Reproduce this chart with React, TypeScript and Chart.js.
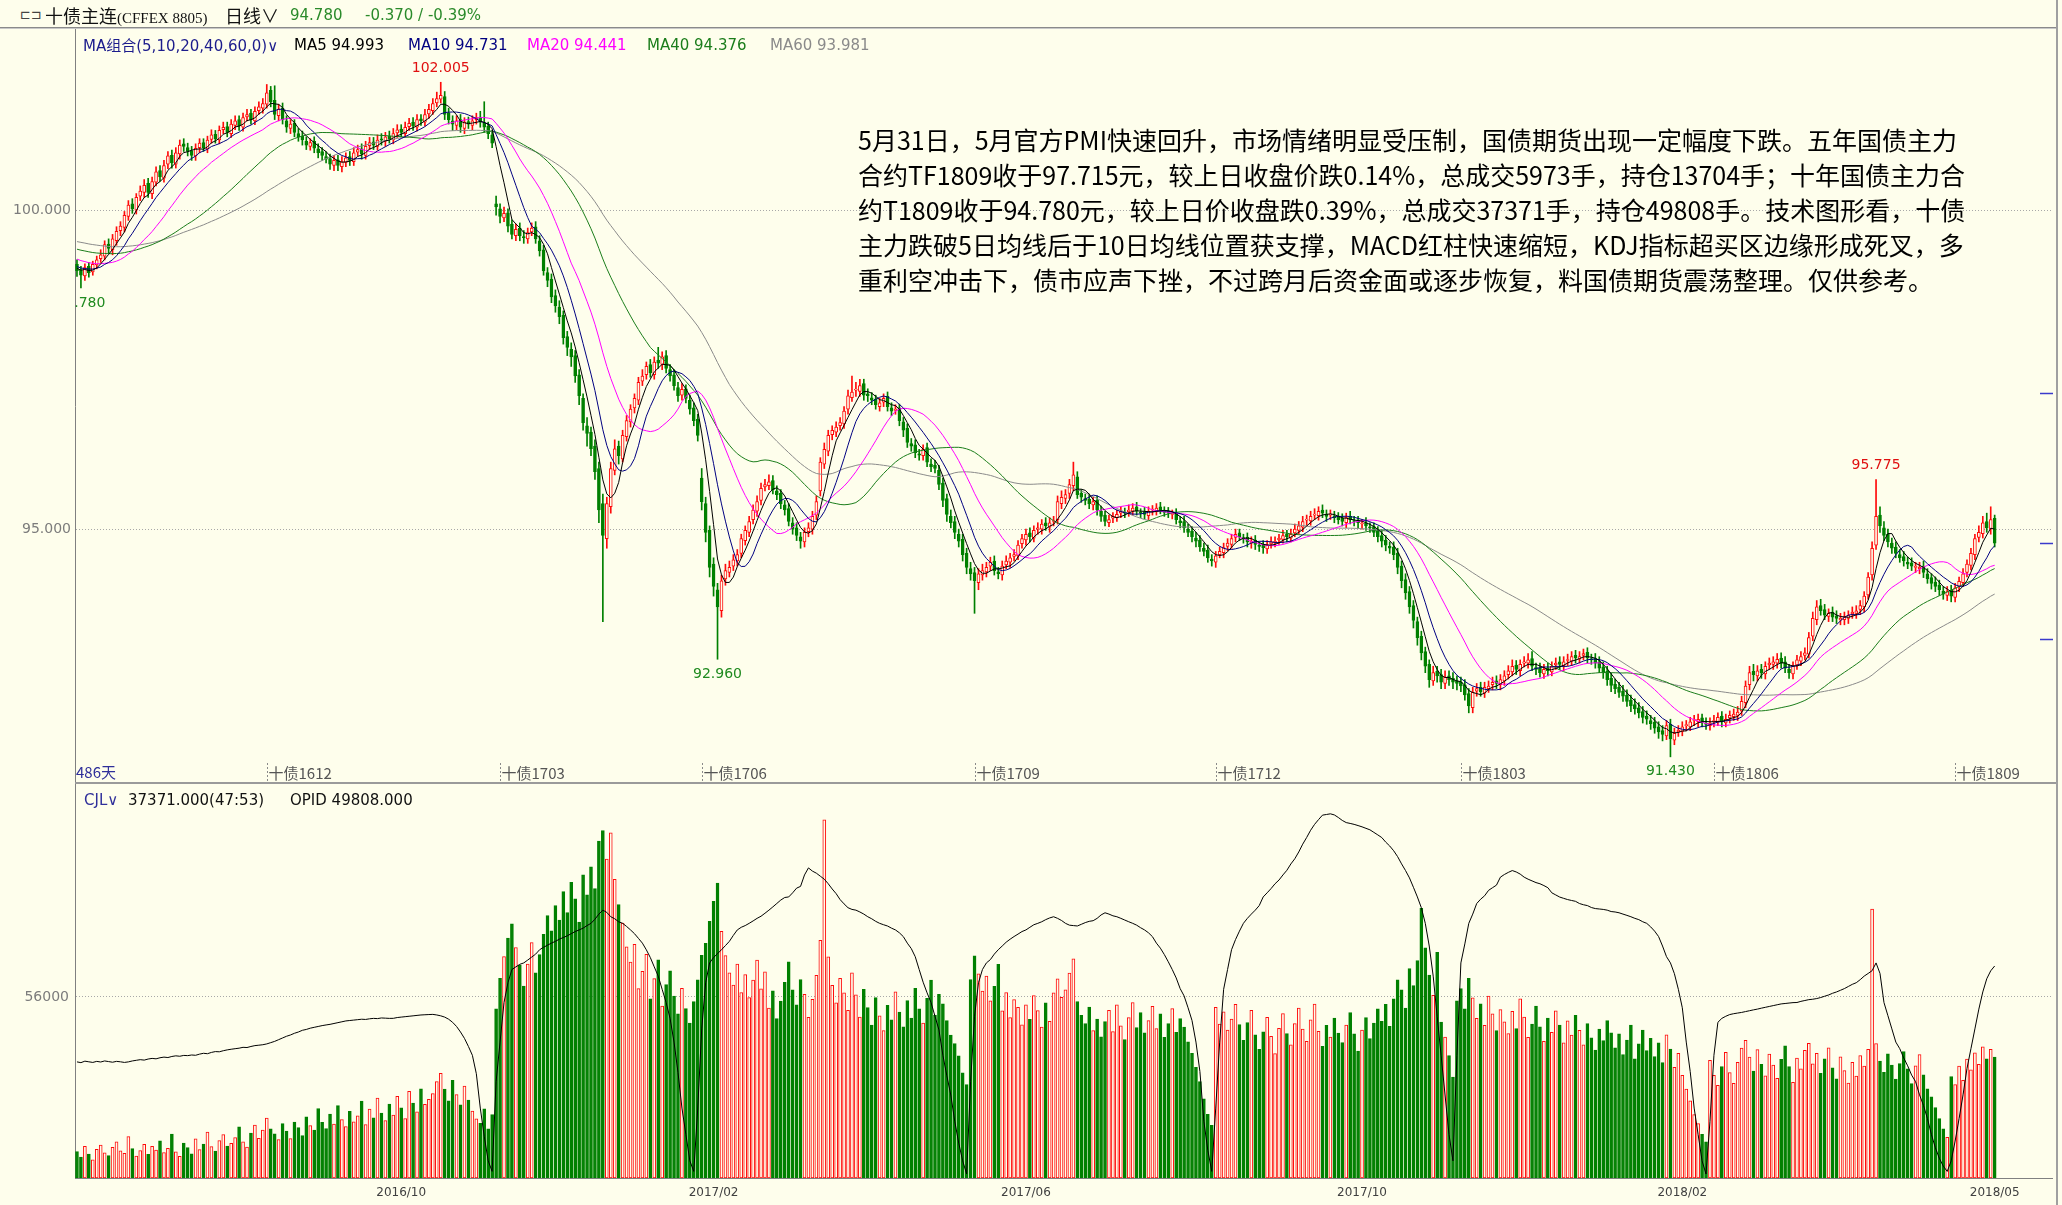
import React, { useEffect, useRef } from 'react';
import { Chart, registerables } from 'chart.js';
Chart.register(...registerables);

// ---------- data ----------
const PRE_CLOSE = [
  99.70,99.78,99.82,99.76,99.72,99.80,99.85,99.78,99.74,99.70,99.76,99.80,99.72,99.68,99.75,99.78,99.70,99.66,99.72,99.68,
  99.62,99.58,99.55,99.60,99.52,99.48,99.55,99.58,99.50,99.56,99.60,99.54,99.50,99.52,99.56,99.58,99.52,99.48,99.54,99.50,
  99.45,99.40,99.38,99.32,99.36,99.30,99.34,99.28,99.35,99.30,
  99.22,99.18,99.10,99.15,99.08,99.12,99.05,99.10,99.12,
];

const OPEN = [
  99.15,99.06,98.97,99.12,99.03,99.14,99.24,99.28,99.47,99.38,
  99.52,99.68,99.73,99.90,100.10,100.00,100.22,100.28,100.42,100.26,
  100.44,100.62,100.50,100.72,100.86,100.72,100.88,101.04,100.98,100.93,
  100.85,100.98,101.06,100.96,101.11,101.19,101.10,101.26,101.31,101.20,
  101.33,101.42,101.30,101.46,101.52,101.40,101.56,101.60,101.66,101.88,
  101.72,101.48,101.60,101.40,101.28,101.36,101.20,101.16,101.08,101.00,
  101.08,100.96,100.92,100.84,100.81,100.70,100.79,100.68,100.75,100.84,
  100.76,100.91,100.96,100.86,101.01,101.07,101.00,101.12,101.08,101.16,
  101.10,101.21,101.27,101.20,101.31,101.38,101.30,101.43,101.38,101.51,
  101.56,101.68,101.74,101.78,101.52,101.40,101.33,101.42,101.28,101.39,
  101.33,101.42,101.46,101.36,101.32,101.18,100.10,100.02,99.88,99.96,
  99.78,99.60,99.72,99.58,99.55,99.66,99.74,99.52,99.38,99.02,
  98.92,98.66,98.48,98.35,98.02,97.82,97.72,97.42,97.05,96.62,
  96.52,96.30,95.95,95.40,94.85,95.35,95.92,96.30,96.10,96.45,
  96.68,96.90,97.02,97.32,97.42,97.58,97.42,97.65,97.58,97.72,
  97.50,97.42,97.22,97.10,97.20,97.02,96.90,96.72,95.80,95.40,
  94.98,94.45,94.05,93.72,94.22,94.32,94.42,94.50,94.62,94.82,
  94.95,95.15,95.28,95.45,95.66,95.68,95.76,95.60,95.56,95.38,
  95.32,95.10,95.02,94.88,94.80,94.96,95.00,95.22,95.60,96.02,
  96.22,96.48,96.52,96.62,96.65,96.88,97.06,97.18,97.16,97.28,
  97.12,97.06,97.04,96.92,96.99,97.08,96.90,96.86,96.90,96.68,
  96.58,96.34,96.32,96.18,96.15,96.28,96.02,96.00,95.92,95.72,
  95.48,95.20,95.12,94.92,94.84,94.62,94.38,94.32,94.16,94.28,
  94.33,94.42,94.50,94.33,94.28,94.44,94.48,94.57,94.58,94.77,
  94.83,94.94,94.86,95.00,95.00,95.10,95.03,95.12,95.15,95.40,
  95.48,95.56,95.68,95.82,95.56,95.48,95.47,95.38,95.45,95.28,
  95.22,95.10,95.17,95.18,95.25,95.26,95.27,95.28,95.35,95.26,
  95.27,95.21,95.30,95.28,95.35,95.28,95.28,95.23,95.25,95.13,
  95.12,95.00,94.97,94.86,94.83,94.70,94.67,94.53,94.48,94.60,
  94.63,94.73,94.76,94.87,94.94,94.86,94.87,94.78,94.83,94.74,
  94.75,94.69,94.77,94.78,94.83,94.84,94.92,94.86,94.94,94.98,
  95.03,95.14,95.13,95.22,95.21,95.30,95.23,95.22,95.21,95.20,
  95.17,95.10,95.20,95.13,95.14,95.08,95.10,95.03,95.04,94.97,
  94.90,94.83,94.73,94.72,94.62,94.42,94.21,94.02,93.80,93.55,
  93.32,93.08,92.88,92.62,92.77,92.72,92.58,92.70,92.66,92.62,
  92.60,92.56,92.42,92.20,92.46,92.52,92.43,92.50,92.56,92.62,
  92.56,92.62,92.72,92.76,92.87,92.78,92.90,92.90,92.97,92.83,
  92.82,92.73,92.82,92.76,92.87,92.92,92.86,92.94,92.93,93.02,
  92.96,93.02,93.07,92.96,92.97,92.92,92.84,92.77,92.66,92.57,
  92.52,92.46,92.40,92.32,92.25,92.20,92.14,92.07,92.00,91.97,
  91.90,91.84,91.76,91.94,91.69,91.82,91.83,91.92,91.90,92.00,
  91.98,92.04,91.96,91.92,91.98,91.98,92.07,91.96,92.04,92.06,
  92.08,92.15,92.28,92.56,92.77,92.70,92.80,92.73,92.87,92.88,
  92.90,92.98,92.92,92.80,92.73,92.87,92.93,93.02,93.04,93.32,
  93.58,93.80,93.74,93.63,93.70,93.64,93.58,93.58,93.60,93.67,
  93.68,93.74,93.78,93.97,94.28,94.75,95.22,95.02,94.92,94.78,
  94.72,94.60,94.57,94.48,94.47,94.40,94.38,94.42,94.30,94.24,
  94.17,94.12,94.03,93.96,94.04,93.93,94.10,94.16,94.32,94.43,
  94.60,94.87,94.93,95.12,95.00,95.17,
];

const HIGH = [
  99.22,99.12,99.16,99.18,99.20,99.28,99.38,99.52,99.55,99.62,
  99.74,99.82,99.98,100.15,100.18,100.26,100.38,100.48,100.50,100.52,
  100.68,100.70,100.78,100.92,100.94,100.98,101.10,101.12,101.05,101.00,
  101.04,101.12,101.12,101.16,101.26,101.25,101.32,101.38,101.38,101.42,
  101.48,101.48,101.52,101.58,101.58,101.62,101.70,101.75,101.97,101.94,
  101.95,101.66,101.68,101.48,101.42,101.42,101.28,101.24,101.15,101.12,
  101.15,101.04,100.98,100.92,100.88,100.86,100.86,100.84,100.90,100.92,
  100.98,101.02,101.04,101.08,101.14,101.14,101.18,101.20,101.22,101.24,
  101.28,101.34,101.34,101.38,101.44,101.45,101.50,101.50,101.58,101.66,
  101.75,101.85,102.005,101.86,101.60,101.48,101.48,101.50,101.45,101.46,
  101.48,101.52,101.55,101.70,101.38,101.25,100.22,100.10,100.05,100.02,
  99.85,99.78,99.80,99.68,99.72,99.80,99.82,99.60,99.45,99.10,
  99.00,98.75,98.58,98.42,98.10,97.92,97.80,97.50,97.12,96.75,
  96.60,96.40,96.05,95.55,95.50,96.05,96.40,96.38,96.55,96.78,
  96.95,97.12,97.38,97.50,97.62,97.66,97.70,97.85,97.78,97.80,
  97.58,97.50,97.30,97.28,97.26,97.10,96.98,96.80,95.95,95.50,
  95.05,94.55,94.15,94.28,94.45,94.50,94.60,94.68,94.92,95.05,
  95.20,95.38,95.52,95.72,95.78,95.85,95.84,95.68,95.62,95.45,
  95.40,95.18,95.10,94.95,95.02,95.10,95.28,95.52,96.12,96.35,
  96.55,96.62,96.68,96.75,96.92,97.18,97.40,97.30,97.35,97.35,
  97.20,97.14,97.10,97.05,97.12,97.15,96.98,96.95,96.96,96.75,
  96.65,96.42,96.40,96.25,96.32,96.35,96.10,96.08,96.00,95.80,
  95.55,95.30,95.20,95.00,94.92,94.70,94.48,94.40,94.38,94.45,
  94.48,94.56,94.58,94.40,94.50,94.58,94.62,94.68,94.82,94.92,
  95.00,95.02,95.05,95.10,95.15,95.18,95.18,95.20,95.52,95.60,
  95.62,95.78,96.05,95.90,95.62,95.55,95.55,95.50,95.52,95.36,
  95.28,95.22,95.26,95.30,95.35,95.33,95.38,95.40,95.42,95.32,
  95.34,95.35,95.37,95.40,95.42,95.35,95.34,95.30,95.32,95.20,
  95.20,95.08,95.04,94.95,94.90,94.78,94.75,94.60,94.65,94.72,
  94.78,94.85,94.92,95.00,95.00,94.92,94.94,94.88,94.90,94.80,
  94.82,94.82,94.88,94.88,94.92,94.98,94.98,95.00,95.08,95.12,
  95.20,95.22,95.28,95.32,95.35,95.38,95.30,95.30,95.28,95.26,
  95.24,95.25,95.28,95.20,95.20,95.15,95.18,95.10,95.10,95.04,
  94.98,94.90,94.80,94.80,94.70,94.50,94.30,94.10,93.88,93.62,
  93.40,93.15,92.95,92.85,92.85,92.80,92.78,92.78,92.75,92.70,
  92.68,92.64,92.50,92.52,92.58,92.60,92.60,92.62,92.68,92.70,
  92.72,92.78,92.86,92.95,92.94,92.95,93.00,93.05,93.08,92.90,
  92.90,92.88,92.90,92.92,92.98,93.00,93.00,93.04,93.08,93.10,
  93.08,93.12,93.14,93.04,93.05,93.00,92.92,92.85,92.74,92.65,
  92.60,92.55,92.48,92.40,92.34,92.28,92.22,92.15,92.08,92.05,
  91.98,91.92,92.00,92.02,91.88,91.92,91.98,92.00,92.05,92.08,
  92.10,92.10,92.04,92.04,92.08,92.12,92.14,92.10,92.15,92.18,
  92.22,92.38,92.62,92.85,92.88,92.86,92.88,92.92,92.98,93.00,
  93.05,93.06,93.00,92.88,92.92,93.02,93.08,93.14,93.38,93.70,
  93.88,93.90,93.82,93.75,93.78,93.72,93.68,93.70,93.72,93.78,
  93.80,93.88,94.02,94.32,94.80,95.775,95.35,95.12,95.00,94.86,
  94.80,94.68,94.65,94.56,94.55,94.48,94.48,94.50,94.38,94.30,
  94.25,94.20,94.10,94.10,94.12,94.15,94.25,94.38,94.52,94.70,
  94.92,95.05,95.20,95.25,95.35,95.22,
];

const LOW = [
  98.96,98.78,98.90,98.95,98.98,99.08,99.18,99.22,99.32,99.30,
  99.45,99.60,99.66,99.84,99.95,99.94,100.15,100.20,100.20,100.18,
  100.38,100.45,100.44,100.65,100.66,100.66,100.80,100.92,100.85,100.78,
  100.78,100.90,100.92,100.90,101.05,101.05,101.04,101.20,101.15,101.14,
  101.26,101.25,101.24,101.40,101.35,101.34,101.50,101.52,101.60,101.62,
  101.42,101.40,101.35,101.22,101.20,101.15,101.08,101.02,100.95,100.94,
  100.90,100.82,100.78,100.74,100.64,100.62,100.62,100.60,100.68,100.70,
  100.70,100.85,100.80,100.80,100.95,100.95,100.94,101.02,101.00,101.05,
  101.04,101.14,101.15,101.14,101.25,101.25,101.24,101.33,101.32,101.44,
  101.50,101.62,101.68,101.42,101.35,101.25,101.26,101.22,101.20,101.28,
  101.26,101.35,101.30,101.22,101.12,100.98,99.92,99.80,99.82,99.66,
  99.55,99.52,99.52,99.48,99.48,99.60,99.48,99.28,98.98,98.80,
  98.55,98.40,98.22,97.90,97.72,97.55,97.30,96.95,96.55,96.30,
  96.15,95.78,95.10,93.55,94.70,95.25,95.85,96.02,96.05,96.38,
  96.60,96.82,96.95,97.25,97.35,97.38,97.35,97.52,97.50,97.45,
  97.32,97.18,97.00,97.02,96.98,96.80,96.62,96.38,95.30,94.80,
  94.25,93.95,92.96,93.62,94.12,94.25,94.35,94.42,94.55,94.75,
  94.88,95.08,95.20,95.38,95.60,95.62,95.55,95.46,95.32,95.22,
  95.05,94.92,94.82,94.70,94.72,94.88,94.92,95.15,95.52,95.95,
  96.15,96.40,96.45,96.55,96.58,96.80,97.00,97.08,97.08,97.02,
  97.00,96.95,96.88,96.85,96.92,96.85,96.78,96.80,96.62,96.45,
  96.28,96.22,96.12,96.08,96.08,95.98,95.90,95.88,95.62,95.35,
  95.12,95.02,94.85,94.72,94.50,94.30,94.20,93.68,94.05,94.20,
  94.25,94.35,94.28,94.22,94.20,94.38,94.40,94.50,94.52,94.70,
  94.75,94.80,94.80,94.92,94.92,94.98,94.95,95.05,95.08,95.32,
  95.40,95.48,95.60,95.48,95.42,95.38,95.32,95.30,95.22,95.12,
  95.05,95.04,95.10,95.12,95.18,95.18,95.20,95.22,95.22,95.18,
  95.16,95.15,95.22,95.22,95.24,95.20,95.18,95.16,95.08,95.02,
  94.95,94.88,94.80,94.72,94.65,94.58,94.48,94.42,94.40,94.55,
  94.55,94.66,94.70,94.80,94.82,94.78,94.72,94.70,94.68,94.65,
  94.62,94.62,94.70,94.72,94.76,94.78,94.80,94.80,94.88,94.92,
  94.96,95.06,95.06,95.15,95.14,95.18,95.12,95.15,95.10,95.08,
  95.05,95.02,95.08,95.05,95.02,95.00,94.98,94.95,94.88,94.80,
  94.72,94.66,94.62,94.52,94.30,94.08,93.90,93.68,93.45,93.18,
  92.95,92.75,92.52,92.55,92.60,92.50,92.50,92.55,92.50,92.48,
  92.45,92.32,92.12,92.12,92.38,92.38,92.36,92.44,92.48,92.50,
  92.48,92.55,92.65,92.70,92.72,92.70,92.84,92.82,92.78,92.72,
  92.68,92.66,92.70,92.70,92.80,92.80,92.78,92.86,92.86,92.90,
  92.90,92.95,92.90,92.88,92.82,92.75,92.66,92.55,92.45,92.42,
  92.36,92.30,92.22,92.14,92.10,92.04,91.96,91.94,91.86,91.80,
  91.72,91.68,91.70,91.43,91.62,91.75,91.76,91.84,91.84,91.92,
  91.90,91.90,91.86,91.85,91.90,91.92,91.90,91.90,91.96,92.00,
  92.00,92.08,92.20,92.48,92.62,92.62,92.66,92.65,92.80,92.80,
  92.82,92.82,92.75,92.66,92.65,92.80,92.86,92.95,92.98,93.25,
  93.50,93.65,93.58,93.55,93.55,93.52,93.50,93.50,93.52,93.60,
  93.60,93.66,93.70,93.90,94.20,94.68,94.95,94.82,94.72,94.62,
  94.55,94.48,94.42,94.38,94.35,94.32,94.30,94.24,94.15,94.06,
  94.02,93.96,93.90,93.88,93.86,93.86,94.02,94.10,94.25,94.36,
  94.52,94.80,94.86,94.95,94.92,94.72,
];

const CLOSE = [
  99.05,98.98,99.10,99.02,99.15,99.22,99.30,99.46,99.40,99.55,
  99.67,99.75,99.92,100.08,100.02,100.20,100.30,100.39,100.28,100.45,
  100.60,100.52,100.70,100.85,100.74,100.90,101.02,101.00,100.92,100.86,
  100.97,101.05,100.98,101.10,101.18,101.12,101.25,101.30,101.22,101.35,
  101.40,101.32,101.45,101.50,101.42,101.55,101.62,101.67,101.84,101.70,
  101.50,101.58,101.42,101.30,101.35,101.22,101.15,101.10,101.02,101.06,
  100.97,100.90,100.86,100.80,100.72,100.78,100.70,100.76,100.82,100.78,
  100.90,100.95,100.88,101.00,101.06,101.02,101.10,101.10,101.15,101.12,
  101.20,101.26,101.22,101.30,101.36,101.32,101.42,101.40,101.50,101.58,
  101.67,101.75,101.80,101.50,101.42,101.35,101.40,101.30,101.38,101.35,
  101.40,101.45,101.38,101.30,101.20,101.05,100.05,99.90,99.95,99.75,
  99.62,99.70,99.60,99.57,99.65,99.72,99.55,99.36,99.05,98.90,
  98.64,98.50,98.33,98.00,97.85,97.70,97.40,97.09,96.67,96.50,
  96.26,95.90,95.30,94.90,95.40,95.95,96.26,96.15,96.47,96.70,
  96.88,97.05,97.30,97.40,97.55,97.45,97.62,97.60,97.70,97.52,
  97.40,97.25,97.09,97.19,97.05,96.88,96.70,96.47,95.43,94.95,
  94.40,94.10,93.78,94.19,94.35,94.40,94.52,94.60,94.85,94.98,
  95.12,95.30,95.43,95.64,95.70,95.74,95.62,95.54,95.40,95.30,
  95.12,95.00,94.90,94.81,94.95,95.02,95.20,95.43,96.05,96.25,
  96.47,96.55,96.60,96.67,96.85,97.09,97.15,97.19,97.25,97.10,
  97.09,97.02,96.95,96.98,97.05,96.92,96.85,96.88,96.70,96.55,
  96.36,96.30,96.20,96.16,96.25,96.05,95.98,95.95,95.70,95.45,
  95.23,95.10,94.95,94.81,94.60,94.40,94.30,94.19,94.30,94.35,
  94.40,94.48,94.35,94.30,94.42,94.50,94.55,94.60,94.75,94.85,
  94.92,94.88,94.98,95.02,95.08,95.05,95.10,95.12,95.43,95.50,
  95.54,95.70,95.85,95.54,95.50,95.45,95.40,95.43,95.30,95.20,
  95.12,95.15,95.20,95.23,95.28,95.25,95.30,95.33,95.28,95.25,
  95.23,95.28,95.30,95.33,95.30,95.26,95.25,95.23,95.15,95.10,
  95.02,94.95,94.88,94.81,94.72,94.65,94.55,94.50,94.58,94.65,
  94.71,94.78,94.85,94.92,94.88,94.85,94.80,94.81,94.76,94.73,
  94.71,94.75,94.80,94.81,94.86,94.90,94.88,94.92,95.00,95.05,
  95.12,95.15,95.20,95.23,95.28,95.25,95.20,95.23,95.18,95.15,
  95.12,95.18,95.15,95.12,95.10,95.08,95.05,95.02,94.95,94.88,
  94.81,94.75,94.70,94.60,94.40,94.19,94.00,93.78,93.57,93.30,
  93.06,92.85,92.64,92.75,92.70,92.60,92.68,92.64,92.60,92.58,
  92.54,92.40,92.23,92.44,92.50,92.45,92.52,92.54,92.60,92.58,
  92.64,92.70,92.78,92.85,92.80,92.88,92.92,92.95,92.85,92.80,
  92.75,92.80,92.78,92.85,92.90,92.88,92.92,92.95,93.00,92.98,
  93.00,93.05,92.98,92.95,92.90,92.82,92.75,92.64,92.55,92.50,
  92.44,92.38,92.30,92.23,92.18,92.12,92.05,92.02,91.95,91.88,
  91.82,91.78,91.92,91.71,91.80,91.85,91.90,91.92,91.98,92.00,
  92.02,91.98,91.94,91.96,92.00,92.05,91.98,92.02,92.08,92.10,
  92.13,92.30,92.54,92.75,92.72,92.78,92.75,92.85,92.90,92.92,
  92.96,92.90,92.82,92.75,92.85,92.95,93.00,93.06,93.30,93.60,
  93.78,93.72,93.65,93.68,93.62,93.60,93.60,93.62,93.65,93.70,
  93.72,93.80,93.95,94.25,94.70,95.20,95.05,94.90,94.80,94.70,
  94.62,94.55,94.50,94.45,94.42,94.40,94.40,94.32,94.22,94.15,
  94.10,94.05,93.98,94.02,93.95,94.08,94.18,94.30,94.45,94.62,
  94.85,94.95,95.10,95.02,95.15,94.78,
];

const VOLUME = [
  8200,6500,9800,7400,5600,8900,10200,7800,6900,9500,
  11200,8400,7600,12800,9100,6800,8500,10400,7300,9800,
  8600,11500,7900,9200,13600,8100,6700,10800,9400,7500,
  12100,8800,10500,14200,9700,8300,11600,13400,9900,10700,
  12500,15800,11200,9600,13900,16400,12300,14800,18500,15200,
  13700,11900,16800,14500,12200,17300,15600,13100,18900,16200,
  14800,21500,17200,15300,19800,16700,22400,18100,15900,20600,
  17400,19200,23800,16500,21300,18600,24700,20100,17800,22900,
  19500,25300,21700,18400,26800,23200,20500,27600,22800,24300,
  26100,29800,32400,27500,23900,30200,25800,22600,28400,24100,
  20700,18300,16900,21400,15200,19600,52300,61800,68500,74200,
  78600,71300,65800,59400,66200,72800,63500,69100,75400,81200,
  76500,84300,79800,88600,82100,91500,86400,79200,93800,87600,
  96300,89500,104200,107500,98700,106800,92400,84600,78900,71500,
  66800,72300,58600,63900,69200,55400,61700,67500,53200,59800,
  64100,56300,50800,58700,52400,47900,54600,61300,68900,72600,
  79400,85600,91200,76300,68800,63500,59700,66200,57400,62900,
  55800,61200,67400,58500,63800,52600,57900,49300,54700,60500,
  66900,58200,53600,61400,56800,49700,55300,62700,73500,110800,
  68400,59600,54200,61800,57300,51900,63500,56700,49800,58400,
  52700,47300,55800,50200,45600,53400,48900,57600,51300,46800,
  54900,49500,58700,52300,47900,55600,61200,50400,56800,53900,
  48700,44200,41600,37800,32500,28900,61400,68700,63200,57800,
  62500,54800,59300,66100,51700,57400,49600,55200,52800,47400,
  53600,49100,56400,51800,46700,54200,48500,57300,61600,55900,
  58200,63400,67800,54600,50300,47800,52900,45600,49200,43700,
  48400,51900,45300,53600,47100,42800,49600,54300,46500,51200,
  44900,48700,53100,46200,50800,43500,47800,52400,45100,49300,
  46700,42100,38600,34200,29800,24500,19700,16300,52800,47600,
  51400,45800,49200,53700,47500,42600,48100,51900,44300,39800,
  45200,49700,43800,38500,46300,50900,44700,41200,47800,52600,
  46100,42300,48900,53800,45400,40700,47200,43600,49500,44800,
  41900,47300,51200,44600,39300,45800,49600,43100,47900,52300,
  48500,53700,46900,55400,61300,58200,52600,64800,59500,67300,
  83400,71200,62800,56500,69800,48200,43600,37900,31200,54800,
  58600,52300,61800,55700,49400,53900,47200,56300,50800,45600,
  52100,48300,44700,51600,46200,55400,49800,43500,47600,53200,
  46800,42300,49500,45100,51700,47300,41800,48600,44200,50300,
  45700,41200,47800,43400,39600,46100,42500,48700,44900,40300,
  44600,38200,42700,47300,36900,41500,45800,39400,43200,37600,
  41800,35700,44300,39900,34200,38600,31800,27500,23900,19600,
  16800,13500,11200,36400,31800,28700,34500,38900,32600,29300,
  35800,40200,42600,37400,33100,39700,35200,31600,38300,34900,
  30800,36700,40900,34500,29600,37100,33800,39500,41700,35300,
  38600,32400,36900,40300,34100,30700,37500,33200,29400,35800,
  31500,37900,34600,39800,83200,41600,36200,32700,38400,34900,
  30600,35400,39100,33800,29200,34700,38200,31900,27600,25100,
  21800,18400,15200,12600,31400,28900,34600,30200,36800,33500,
  38700,35200,40600,36900,39800,37371,
];

const OPID = [
  27280,27100,27450,27300,27150,27400,27250,27500,27350,27200,
  27400,27300,27150,27280,27500,27650,27800,27700,27950,28100,
  28000,28250,28400,28300,28550,28700,28600,28800,28750,28900,
  28830,29100,29300,29200,29500,29700,29650,29900,30100,30250,
  30380,30500,30700,30650,30900,31100,31200,31310,31500,31800,
  32100,32500,32900,33300,33600,34000,34300,34700,34900,35200,
  35400,35600,35800,35960,36100,36300,36500,36700,36900,37000,
  37100,37200,37300,37250,37400,37500,37450,37600,37550,37500,
  37510,37700,37800,37900,38000,38100,38200,38300,38350,38400,
  38440,38300,38100,37800,37300,36580,35600,34300,32800,30900,
  28830,24500,16430,9800,4030,1550,22630,31930,41230,45880,
  48980,49600,50200,50530,51200,51900,52600,53630,54200,54700,
  55180,55600,56110,56500,56900,57400,57900,58280,58700,59300,
  59830,60800,62000,62930,62400,61380,60900,60200,59830,59100,
  58280,57400,56300,55180,53600,51800,49600,47430,44330,41230,
  37500,31930,24800,16430,10200,4030,1550,16430,35030,45880,
  50530,51800,52700,53630,54600,55600,57000,58280,58900,59300,
  59830,60400,61000,61500,62200,62930,63700,64500,65300,65900,
  66030,67000,68100,68510,71200,72850,72100,71610,70900,70200,
  69130,67900,66800,65410,64400,63500,63100,62930,62500,62000,
  61380,60900,60300,59830,59500,59200,58700,58280,57600,56700,
  55180,53900,52000,48980,46000,43500,41230,38000,34800,28830,
  24000,19500,13330,8200,4030,930,22630,38000,45880,48980,
  50530,51300,52600,53630,54500,55400,56100,56730,57300,57900,
  58280,58900,59500,59830,60200,60700,61100,61380,61000,60500,
  59830,59400,59300,59210,59600,60000,60300,60450,61000,61800,
  62310,62000,61600,61380,61000,60600,60200,59830,59400,58800,
  58280,57600,56700,55180,54000,52500,50800,48980,47000,44500,
  42780,40000,37000,31930,25000,13330,6500,1550,16430,31930,
  44330,49000,53630,56000,58000,59830,61000,62000,62930,64000,
  66030,67000,68000,69130,70000,71200,72300,73780,75000,76600,
  78430,80000,81700,83080,84200,85250,85400,85560,85300,84700,
  84010,83500,83300,83080,82800,82500,82150,81800,81200,80600,
  79980,78900,78000,76880,75500,73800,72230,70500,68300,66030,
  63500,59830,54500,47430,38000,28830,19500,10230,4030,28830,
  50530,55000,59830,62000,64480,65500,66300,67580,68200,68800,
  70680,71300,71800,72230,71900,71400,70680,70200,69800,69400,
  69130,68700,68200,67000,66500,66000,65700,65410,65200,65000,
  64480,64200,64000,63550,63300,63200,63100,62930,62600,62500,
  62310,62000,61700,61380,61000,60700,60200,59830,59000,58000,
  56730,54500,52000,50530,48000,44330,40000,31930,25000,16430,
  10230,4030,930,13330,28830,36580,37500,38000,38400,38600,
  38750,38900,39100,39300,39500,39680,39900,40100,40300,40500,
  40700,40900,41000,41100,41200,41230,41500,41700,41900,42000,
  42160,42400,42700,43000,43400,43710,44100,44500,45000,45500,
  45880,46600,47430,48050,48700,50530,48050,41230,38130,35030,
  31930,30380,28210,26350,24180,22630,19530,17050,13950,10230,
  7130,4650,2790,1550,4030,8680,13950,19530,25730,30380,
  35030,39680,43710,46810,48670,49808,
];

const MA_PERIODS = [5, 10, 20, 40, 60];
const MA_LAST = [94.993, 94.731, 94.441, 94.376, 93.981];
const PRICE_TICKS = [95, 100];
const VOLUME_TICKS = [56000];
const ROLL_INDEX = [48, 107, 158, 227, 288, 350, 414, 475];
const ROLL_LABELS = ['十债1612', '十债1703', '十债1706', '十债1709', '十债1712', '十债1803', '十债1806', '十债1809'];
const DATE_INDEX = [82, 161, 240, 325, 406, 485];
const DATE_LABELS = ['2016/10', '2017/02', '2017/06', '2017/10', '2018/02', '2018/05'];
const EXT_INDEX = [1, 92, 162, 403, 455];
const EXT_KIND = ['low', 'high', 'low', 'low', 'high'];
const RIGHT_MARKS = [97.13, 94.78, 93.28];
const LAST_PRICE = '94.780';
const LAST_CHANGE = '-0.370 / -0.39%';
const CJL_TEXT = '37371.000(47:53)';
const OPID_TEXT = 'OPID 49808.000';
const NOTE_LINES = [
  '5月31日，5月官方PMI快速回升，市场情绪明显受压制，国债期货出现一定幅度下跌。五年国债主力',
  '合约TF1809收于97.715元，较上日收盘价跌0.14%，总成交5973手，持仓13704手；十年国债主力合',
  '约T1809收于94.780元，较上日价收盘跌0.39%，总成交37371手，持仓49808手。技术图形看，十债',
  '主力跌破5日均线后于10日均线位置获支撑，MACD红柱快速缩短，KDJ指标超买区边缘形成死叉，多',
  '重利空冲击下，债市应声下挫，不过跨月后资金面或逐步恢复，料国债期货震荡整理。仅供参考。',
];

// ---------- styles ----------
const BG = '#fefeec';
const UP = '#ff0a0a';
const DOWN = '#008000';
const MA_COLORS = ['#000000', '#000080', '#ff00ff', '#1b7d1b', '#8a8a8a'];
const CJK = '"Noto Sans CJK SC", sans-serif';
const NUMF = '"DejaVu Sans", sans-serif';

function sma(all: number[], offset: number, n: number, period: number) {
  const out: number[] = [];
  for (let i = 0; i < n; i++) {
    let s = 0;
    for (let k = 0; k < period; k++) s += all[offset + i - k];
    out.push(s / period);
  }
  return out;
}

export default function App() {
  const priceRef = useRef<HTMLCanvasElement>(null);
  const volRef = useRef<HTMLCanvasElement>(null);

  useEffect(() => {
    document.body.style.margin = '0';
    Chart.defaults.font.family = NUMF;
    const n = CLOSE.length;
    const labels = Array.from({ length: n + 14 }, (_, i) => String(i));
    const up = CLOSE.map((c, i) => c >= OPEN[i]);
    const lineColor = up.map((u) => (u ? UP : DOWN));
    const fillColor = up.map((u) => (u ? BG : DOWN));
    const all = PRE_CLOSE.concat(CLOSE);
    const maData = MA_PERIODS.map((p) => sma(all, PRE_CLOSE.length, n, p));

    const pricePlugin = {
      id: 'priceDecor',
      afterDatasetsDraw(chart: any) {
        const { ctx, chartArea: a, scales } = chart;
        const x = scales.x, y = scales.y;
        ctx.save();
        ctx.font = '15px ' + CJK;
        ctx.textBaseline = 'middle';
        ctx.textAlign = 'left';
        ROLL_INDEX.forEach((idx, k) => {
          const px = Math.round(x.getPixelForValue(idx)) + 0.5;
          ctx.strokeStyle = '#8a8a8a';
          ctx.lineWidth = 1;
          ctx.setLineDash([2, 2]);
          ctx.beginPath();
          ctx.moveTo(px, a.bottom - 20);
          ctx.lineTo(px, a.bottom);
          ctx.stroke();
          ctx.setLineDash([]);
          ctx.fillStyle = '#555555';
          ctx.fillText(ROLL_LABELS[k], px + 1, a.bottom - 10);
        });
        ctx.fillStyle = '#2f2f9a';
        ctx.fillText(`${n}天`, a.left + 1, a.bottom - 11);
        // extremes
        ctx.save();
        ctx.beginPath();
        ctx.rect(a.left, a.top, a.right - a.left, a.bottom - a.top);
        ctx.clip();
        ctx.font = '14px ' + NUMF;
        ctx.textAlign = 'center';
        EXT_INDEX.forEach((idx, k) => {
          const isHigh = EXT_KIND[k] === 'high';
          const v = isHigh ? HIGH[idx] : LOW[idx];
          const px = x.getPixelForValue(idx);
          const py = y.getPixelForValue(v) + (isHigh ? -14 : 15);
          ctx.fillStyle = isHigh ? '#e01010' : '#1f8a1f';
          ctx.fillText(v.toFixed(3), px, py);
        });
        ctx.restore();
        ctx.strokeStyle = '#3a3acc';
        ctx.lineWidth = 1.5;
        RIGHT_MARKS.forEach((v) => {
          const py = Math.round(y.getPixelForValue(v)) + 0.5;
          ctx.beginPath();
          ctx.moveTo(a.right - 12, py);
          ctx.lineTo(a.right + 1, py);
          ctx.stroke();
        });
        ctx.restore();
      },
    };

    const priceChart = new Chart(priceRef.current as HTMLCanvasElement, {
      type: 'bar',
      data: {
        labels,
        datasets: [
          ...MA_PERIODS.map((p, k) => ({
            type: 'line',
            label: `MA${p}`,
            data: maData[k],
            borderColor: MA_COLORS[k],
            borderWidth: 1,
            pointRadius: 0,
            tension: 0,
            fill: false,
            order: 0,
          })),
          {
            type: 'bar',
            label: 'body',
            data: CLOSE.map((c, i) => [OPEN[i], c]),
            backgroundColor: fillColor,
            borderColor: lineColor,
            borderWidth: 1,
            borderSkipped: false,
            barThickness: 3,
            minBarLength: 1,
            grouped: false,
            order: 1,
          },
          {
            type: 'bar',
            label: 'wick',
            data: CLOSE.map((_, i) => [LOW[i], HIGH[i]]),
            backgroundColor: lineColor,
            borderWidth: 0,
            barThickness: 1,
            grouped: false,
            order: 2,
          },
        ],
      } as any,
      options: {
        responsive: false,
        animation: false,
        events: [],
        layout: { padding: { left: 0, right: 10, top: 0, bottom: 0 } },
        plugins: { legend: { display: false }, tooltip: { enabled: false } },
        scales: {
          x: { type: 'category', display: false, offset: true, grid: { display: false } },
          y: {
            position: 'left',
            min: 91.02,
            max: 102.84,
            afterBuildTicks: (s: any) => { s.ticks = PRICE_TICKS.map((v) => ({ value: v })); },
            afterFit: (s: any) => { s.width = 75; s.paddingTop = 0; s.paddingBottom = 0; },
            ticks: {
              callback: (v: any) => Number(v).toFixed(3),
              color: '#7c7c7c',
              font: { size: 14, family: NUMF },
              padding: 4,
            },
            grid: { color: '#a8a8a8', drawTicks: false, lineWidth: 1 },
            border: { display: true, color: '#808080', width: 1, dash: [1, 2] },
          },
        },
      } as any,
      plugins: [pricePlugin],
    } as any);

    const volChart = new Chart(volRef.current as HTMLCanvasElement, {
      type: 'bar',
      data: {
        labels,
        datasets: [
          {
            type: 'line',
            label: 'OPID',
            data: OPID,
            borderColor: '#000000',
            borderWidth: 1,
            pointRadius: 0,
            tension: 0,
            yAxisID: 'y2',
            order: 0,
          },
          {
            type: 'bar',
            label: 'CJL',
            data: VOLUME,
            backgroundColor: fillColor,
            borderColor: lineColor,
            borderWidth: 1,
            borderSkipped: false,
            barThickness: 3,
            yAxisID: 'y',
            order: 1,
          },
        ],
      } as any,
      options: {
        responsive: false,
        animation: false,
        events: [],
        layout: { padding: { left: 0, right: 10, top: 0, bottom: 0 } },
        plugins: { legend: { display: false }, tooltip: { enabled: false } },
        scales: {
          x: {
            type: 'category',
            offset: true,
            grid: { display: false, drawTicks: false },
            border: { display: true, color: '#808080', width: 1 },
            afterFit: (s: any) => { s.height = 27; s.paddingLeft = 0; s.paddingRight = 0; },
            ticks: {
              autoSkip: false,
              maxRotation: 0,
              minRotation: 0,
              padding: 8,
              color: '#404040',
              font: { size: 12, family: NUMF },
              callback: (_v: any, i: number) => {
                const k = DATE_INDEX.indexOf(i);
                return k >= 0 ? DATE_LABELS[k] : '';
              },
            },
          },
          y: {
            position: 'left',
            min: 0,
            max: 122200,
            afterBuildTicks: (s: any) => { s.ticks = VOLUME_TICKS.map((v) => ({ value: v })); },
            afterFit: (s: any) => { s.width = 75; s.paddingTop = 0; s.paddingBottom = 0; },
            ticks: {
              callback: (v: any) => String(v),
              color: '#7c7c7c',
              font: { size: 14, family: NUMF },
              padding: 6,
            },
            grid: { color: '#a8a8a8', drawTicks: false, lineWidth: 1 },
            border: { display: true, color: '#808080', width: 1, dash: [1, 2] },
          },
          y2: { position: 'right', display: false, min: 0, max: 92800 },
        },
      } as any,
    } as any);

    return () => {
      priceChart.destroy();
      volChart.destroy();
    };
  }, []);

  const maLeft = [83, 294, 408, 527, 647, 770];
  return (
    <div style={{ position: 'fixed', left: 0, top: 0, width: 2062, height: 1205, background: BG, overflow: 'hidden', fontFamily: NUMF }}>
      <canvas ref={priceRef} width={2062} height={754} style={{ position: 'absolute', left: 0, top: 29, width: 2062, height: 754 }} />
      <canvas ref={volRef} width={2062} height={422} style={{ position: 'absolute', left: 0, top: 783, width: 2062, height: 422 }} />

      {/* frame lines */}
      <div style={{ position: 'absolute', left: 0, top: 27, width: 2058, height: 1, background: '#8a8a8a' }} />
      <div style={{ position: 'absolute', left: 0, top: 28, width: 2058, height: 1, background: '#c8c8c8' }} />
      <div style={{ position: 'absolute', left: 2056, top: 0, width: 2, height: 1205, background: '#a0a0a0' }} />
      <div style={{ position: 'absolute', left: 75, top: 782, width: 1981, height: 2, background: '#9a9a9a' }} />

      {/* header */}
      <div style={{ position: 'absolute', top: 3, left: 0, height: 24, lineHeight: '24px', whiteSpace: 'nowrap' }}>
        <span style={{ position: 'absolute', left: 20, fontSize: 13, color: '#444', fontFamily: NUMF }}>⊏⊐</span>
        <span style={{ position: 'absolute', left: 45, fontSize: 18, color: '#111', fontFamily: CJK }}>
          十债主连<span style={{ fontFamily: '"Liberation Serif", serif', fontSize: 15 }}>(CFFEX 8805)</span>
        </span>
        <span style={{ position: 'absolute', left: 225, fontSize: 18, color: '#111', fontFamily: CJK }}>日线∨</span>
        <span style={{ position: 'absolute', left: 290, fontSize: 15, color: '#2a8a2a' }}>{LAST_PRICE}</span>
        <span style={{ position: 'absolute', left: 365, fontSize: 15, color: '#2a8a2a' }}>{LAST_CHANGE}</span>
      </div>

      {/* MA legend */}
      <div style={{ position: 'absolute', top: 34, left: 0, height: 22, lineHeight: '22px', whiteSpace: 'nowrap', fontSize: 15 }}>
        <span style={{ position: 'absolute', left: maLeft[0], color: '#1c1c8c' }}>
          MA<span style={{ fontFamily: CJK }}>组合</span>(5,10,20,40,60,0)∨
        </span>
        {MA_PERIODS.map((p, k) => (
          <span key={p} style={{ position: 'absolute', left: maLeft[k + 1], color: MA_COLORS[k] }}>
            {`MA${p} ${MA_LAST[k].toFixed(3)}`}
          </span>
        ))}
      </div>

      {/* commentary */}
      <div style={{ position: 'absolute', left: 858, top: 122, fontFamily: CJK, fontSize: 25, lineHeight: '35px', color: '#000', whiteSpace: 'nowrap' }}>
        {NOTE_LINES.map((t, i) => (
          <div key={i}>{t}</div>
        ))}
      </div>

      {/* volume header */}
      <div style={{ position: 'absolute', top: 790, left: 0, height: 20, lineHeight: '20px', whiteSpace: 'nowrap', fontSize: 15 }}>
        <span style={{ position: 'absolute', left: 84, color: '#2f2f9a' }}>CJL∨</span>
        <span style={{ position: 'absolute', left: 128, color: '#111' }}>{CJL_TEXT}</span>
        <span style={{ position: 'absolute', left: 290, color: '#111' }}>{OPID_TEXT}</span>
      </div>
    </div>
  );
}
